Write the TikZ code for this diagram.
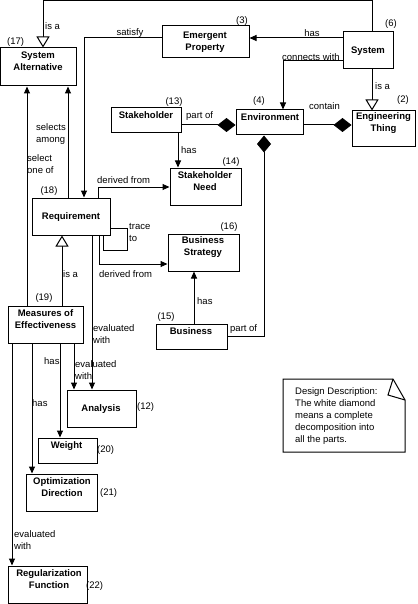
\documentclass[tikz,border=0pt]{standalone}
\usepackage{fontspec}
\setmainfont{Liberation Sans}
\usetikzlibrary{arrows.meta,fit}
\tikzset{
  box/.style={draw, line width=1pt, inner sep=0pt},
  ttl/.style={inner sep=0pt, align=center, font=\bfseries\fontsize{9.5}{12}\selectfont},
  lbl/.style={inner sep=0pt, align=left, font=\fontsize{9.5}{12}\selectfont},
  num/.style={inner sep=0pt, font=\fontsize{9.5}{12}\selectfont},
  con/.style={line width=1pt},
  arr/.style={con, -{Triangle[width=6pt,length=7pt]}},
  gen/.style={con, -{Triangle[open,fill=white,width=13pt,length=11pt]}},
  diamst/.style={con, {Diamond[width=14pt,length=18pt]}-},
  diamend/.style={con, -{Diamond[width=14pt,length=17pt]}}
}
\begin{document}
\begin{tikzpicture}[x=1pt,y=-1pt]
\useasboundingbox (0,0) rectangle (417,604);
% boxes
\node[box, fit={(0.5,48)(76,86)}] (sa) {};
\node[box, fit={(162,26)(249,58)}] (ep) {};
\node[box, fit={(343,32)(393,69)}] (sys) {};
\node[box, fit={(352,111)(415,147)}] (et) {};
\node[box, fit={(236,110)(303,135)}] (env) {};
\node[box, fit={(111,108)(181,133)}] (sh) {};
\node[box, fit={(170,168)(241,205)}] (sn) {};
\node[box, fit={(168,234)(239,271)}] (bs) {};
\node[box, fit={(156,324)(227,349)}] (bus) {};
\node[box, fit={(32,198)(110,235)}] (req) {};
\node[box, fit={(8,306)(83,343)}] (moe) {};
\node[box, fit={(67,390)(136,427)}] (an) {};
\node[box, fit={(38,438)(97,463)}] (wt) {};
\node[box, fit={(26,474)(97,511)}] (od) {};
\node[box, fit={(8,566)(87,603)}] (rf) {};
% titles
\node[ttl] (sa-t) at (38,61) {System\\Alternative};
\node[ttl] (ep-t) at (205,42.5) {Emergent\\Property};
\node[ttl] (sys-t) at (368,51) {System};
\node[ttl] (et-t) at (383.5,123) {Engineering\\Thing};
\node[ttl] (env-t) at (270,117) {Environment};
\node[ttl] (sh-t) at (146,115) {Stakeholder};
\node[ttl] (sn-t) at (205,181.5) {Stakeholder\\Need};
\node[ttl] (bs-t) at (203,247.5) {Business\\Strategy};
\node[ttl] (bus-t) at (191,331.5) {Business};
\node[ttl] (req-t) at (71,217) {Requirement};
\node[ttl] (moe-t) at (45.5,319) {Measures of\\Effectiveness};
\node[ttl] (an-t) at (101,409) {Analysis};
\node[ttl] (wt-t) at (66.5,446) {Weight};
\node[ttl] (od-t) at (62,487.5) {Optimization\\Direction};
\node[ttl] (rf-t) at (49,579.5) {Regularization\\Function};
% numbers
\node[num, anchor=west] (n17) at (7,42) {(17)};
\node[num] (n3) at (242,21) {(3)};
\node[num] (n6) at (391,24) {(6)};
\node[num] (n2) at (403,100) {(2)};
\node[num] (n4) at (259,101) {(4)};
\node[num] (n13) at (174,102) {(13)};
\node[num] (n14) at (231,162) {(14)};
\node[num] (n16) at (229,227) {(16)};
\node[num] (n18) at (49,191) {(18)};
\node[num] (n15) at (166,317) {(15)};
\node[num] (n19) at (44,298) {(19)};
\node[num, anchor=west] (n12) at (137,407) {(12)};
\node[num, anchor=west] (n20) at (97,450) {(20)};
\node[num, anchor=west] (n21) at (100,493) {(21)};
\node[num, anchor=west] (n22) at (86,586) {(22)};
% helper coordinates
\coordinate (top1) at (372,1);
\coordinate (top2) at (43,1);
\coordinate (c38) at (0,38);
\coordinate (c84) at (84,38);
\coordinate (c283) at (283,61);
\coordinate (c125) at (0,125);
\coordinate (c178) at (178,0);
\coordinate (c98) at (98,187);
\coordinate (t1) at (127,228);
\coordinate (t2) at (103,250);
\coordinate (c99) at (99,264);
\coordinate (c194) at (194,0);
\coordinate (c264) at (264,336);
\coordinate (c68) at (68,0);
\coordinate (c27) at (27,0);
\coordinate (c62) at (62,0);
\coordinate (c92) at (92,0);
\coordinate (c74) at (74,0);
\coordinate (c60) at (60,0);
\coordinate (c32) at (32,0);
\coordinate (c12) at (12,0);
% connectors
\draw[gen] (sys.north -| top1) -- (top1) -- (top2) -- (sa.north -| top2);
\draw[arr] (sys.west |- c38) -- (ep.east |- c38);
\draw[arr] (ep.west |- c84) -- (c84) -- (req.north -| c84);
\draw[arr] (sys.west |- c283) -- (c283) -- (env.north -| c283);
\draw[gen] (sys.south -| top1) -- (et.north -| top1);
\draw[diamst] (et.west |- c125) -- (env.east |- c125);
\draw[diamst] (env.west |- c125) -- (sh.east |- c125);
\draw[arr] (sh.south -| c178) -- (sn.north -| c178);
\draw[arr] (req.north -| c98) -- (c98) -- (sn.west |- c98);
\draw[con] (req.east |- t1) -- (t1) -- (t1 |- t2) -- (t2) -- (req.south -| t2);
\draw[arr] (req.south -| c99) -- (c99) -- (bs.west |- c99);
\draw[arr] (bus.north -| c194) -- (bs.south -| c194);
\draw[diamend] (bus.east |- c264) -- (c264) -- (env.south -| c264);
\draw[arr] (req.north -| c68) -- (sa.south -| c68);
\draw[arr] (moe.north -| c27) -- (sa.south -| c27);
\draw[gen] (moe.north -| c62) -- (req.south -| c62);
\draw[arr] (req.south -| c92) -- (an.north -| c92);
\draw[arr] (moe.south -| c74) -- (an.north -| c74);
\draw[arr] (moe.south -| c60) -- (wt.north -| c60);
\draw[arr] (moe.south -| c32) -- (od.north -| c32);
\draw[arr] (moe.south -| c12) -- (rf.north -| c12);
% connector labels
\node[lbl, anchor=west] (l1) at (45,26) {is a};
\node[lbl] (l2) at (130,33) {satisfy};
\node[lbl] (l3) at (312,33) {has};
\node[lbl, anchor=west] (l4) at (282,57) {connects with};
\node[lbl, anchor=west] (l5) at (375,86) {is a};
\node[lbl, anchor=west] (l6) at (309,106) {contain};
\node[lbl, anchor=west] (l7) at (186,116) {part of};
\node[lbl, anchor=west] (l8) at (181,150) {has};
\node[lbl, anchor=west] (l9) at (97,180) {derived from};
\node[lbl, anchor=west] (l10) at (129,232) {trace\\to};
\node[lbl, anchor=west] (l11) at (99,274) {derived from};
\node[lbl, anchor=west] (l12) at (197,301) {has};
\node[lbl, anchor=west] (l13) at (230,329) {part of};
\node[lbl, anchor=west] (l14) at (36,134) {selects\\among};
\node[lbl, anchor=west] (l15) at (27,164) {select\\one of};
\node[lbl, anchor=west] (l16) at (63,274) {is a};
\node[lbl, anchor=west] (l17) at (93,334) {evaluated\\with};
\node[lbl, anchor=west] (l18) at (75,370) {evaluated\\with};
\node[lbl, anchor=west] (l19) at (44,361) {has};
\node[lbl, anchor=west] (l20) at (32,403) {has};
\node[lbl, anchor=west] (l21) at (14,540) {evaluated\\with};
% note
\draw[con] (283,379) -- (393,379) -- (405,400) -- (405,452) -- (283,452) -- cycle;
\draw[con] (393,379) -- (388,395) -- (405,400);
\node[lbl, anchor=north west] (note) at (295,387) {Design Description:\\The white diamond\\means a complete\\decomposition into\\all the parts.};
\end{tikzpicture}
\end{document}
